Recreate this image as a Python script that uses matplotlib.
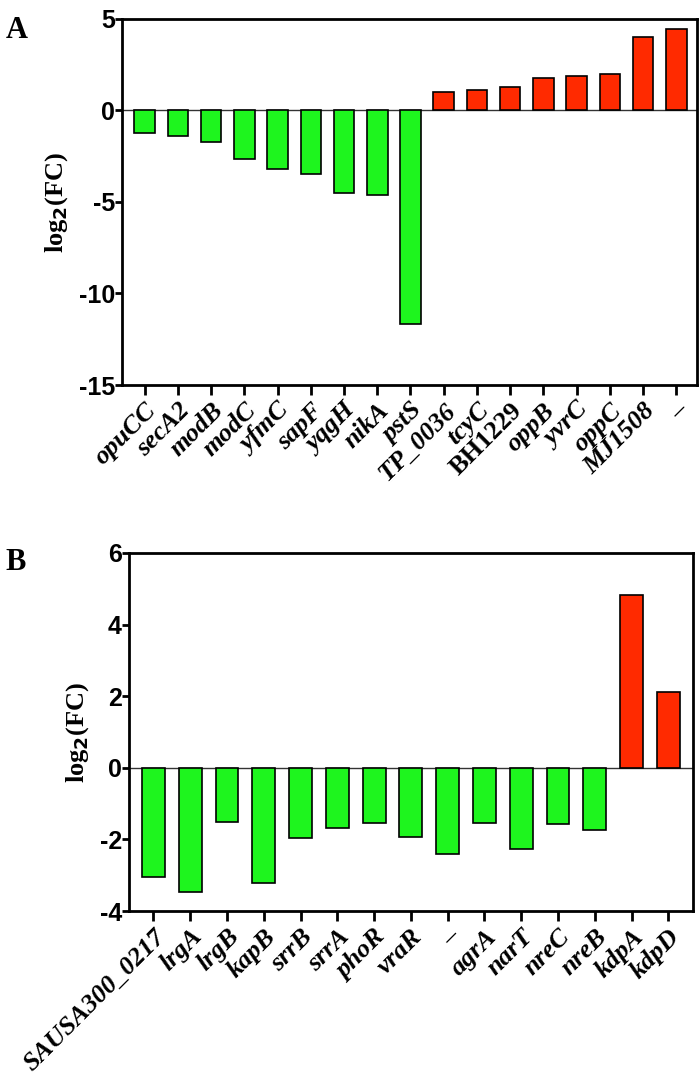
import numpy as np
import matplotlib
matplotlib.use("Agg")
import matplotlib.pyplot as plt

plt.rcParams['axes.unicode_minus'] = False

# panel A data
genes_a = ['opuCC', 'secA2', 'modB', 'modC', 'yfmC', 'sapF', 'yqgH', 'nikA', 'pstS',
           'TP_0036', 'tcyC', 'BH1229', 'oppB', 'yvrC', 'oppC', 'MJ1508', '–']
fc_a = [-1.23, -1.41, -1.73, -2.65, -3.18, -3.45, -4.51, -4.60, -11.64,
        0.99, 1.10, 1.26, 1.77, 1.91, 1.97, 4.01, 4.46]
italic_a = [True] * 9 + [True, True, False, True, True, True, True, False]

# panel B data
genes_b = ['SAUSA300_0217', 'lrgA', 'lrgB', 'kapB', 'srrB', 'srrA', 'phoR', 'vraR',
           '–', 'agrA', 'narT', 'nreC', 'nreB', 'kdpA', 'kdpD']
fc_b = [-3.06, -3.47, -1.51, -3.23, -1.95, -1.68, -1.55, -1.92,
        -2.41, -1.53, -2.27, -1.56, -1.74, 4.84, 2.11]

GREEN = '#1EF51E'
RED = '#FF2A00'


def draw_panel(ax, genes, values, ylim, yticks, xlim):
    x = np.arange(len(genes))
    colors = [RED if v > 0 else GREEN for v in values]
    ax.bar(x, values, width=0.62, color=colors, edgecolor='black', linewidth=1.2, zorder=3)
    ax.axhline(0, color='#333333', linewidth=1.0, zorder=2)

    ax.set_xlim(*xlim)
    ax.set_ylim(*ylim)
    ax.set_yticks(yticks)
    ax.set_yticklabels([str(t) for t in yticks], fontfamily='Liberation Sans',
                       fontweight='bold', fontsize=18)
    ax.set_xticks(x)
    ax.set_xticklabels(genes, rotation=45, ha='right', rotation_mode='anchor',
                       fontfamily='Liberation Serif', fontweight='bold',
                       fontstyle='italic', fontsize=19)
    for spine in ax.spines.values():
        spine.set_linewidth(2.0)
    ax.tick_params(axis='y', direction='out', width=2.0, length=5, pad=0)
    ax.tick_params(axis='x', direction='out', width=2.0, length=7, pad=3)
    ax.set_ylabel('log$_\\mathbf{2}$(FC)', fontfamily='Liberation Serif',
                  fontweight='bold', fontsize=19, labelpad=6)


fig = plt.figure(figsize=(7, 10.83), dpi=100)

ax_a = fig.add_axes([0.174, 0.6445, 0.822, 0.338])
draw_panel(ax_a, genes_a, fc_a, (-15, 5), [5, 0, -5, -10, -15], (-0.69, 16.63))
for lbl, it in zip(ax_a.get_xticklabels(), italic_a):
    if not it:
        lbl.set_fontstyle('normal')

ax_b = fig.add_axes([0.184, 0.1588, 0.806, 0.3306])
draw_panel(ax_b, genes_b, fc_b, (-4, 6), [6, 4, 2, 0, -2, -4], (-0.67, 14.67))

fig.text(0.008, 0.985, 'A', fontfamily='Liberation Serif', fontweight='bold',
         fontsize=22, va='top')
fig.text(0.008, 0.494, 'B', fontfamily='Liberation Serif', fontweight='bold',
         fontsize=22, va='top')

fig.savefig('out.png', dpi=100)
